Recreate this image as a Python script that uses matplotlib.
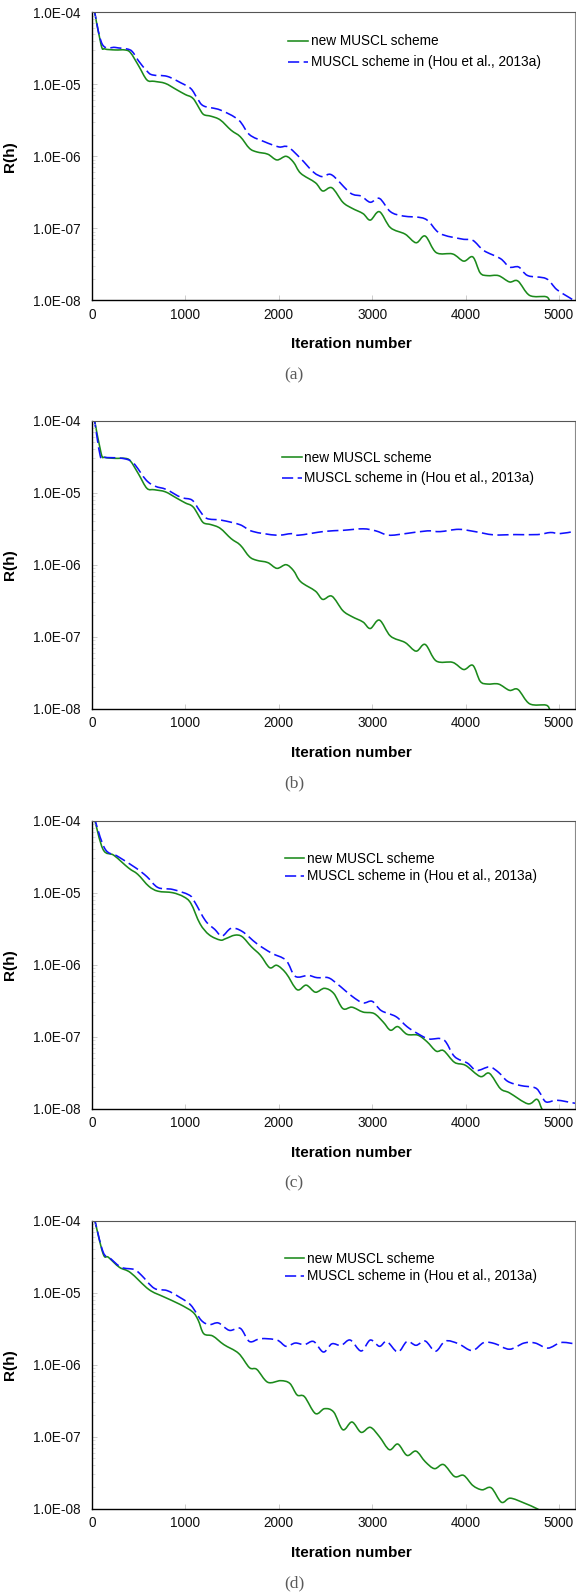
import matplotlib
matplotlib.use("Agg")
import numpy as np
import matplotlib.pyplot as plt
from matplotlib.path import Path
from matplotlib.patches import PathPatch
from matplotlib.lines import Line2D
from matplotlib.ticker import FixedLocator, FuncFormatter, LogLocator, NullFormatter

plt.rcParams['font.family'] = ['Liberation Sans', 'DejaVu Sans']

# ---- residual histories -------------------------------------------------
# (a) and (b): the new scheme's history is the same run in both panels
it_ab_new = [20, 98, 137, 250, 353, 412, 500, 588, 667, 784, 900, 1000, 1059, 1098,
             1150, 1196, 1275, 1373, 1490, 1588, 1686, 1765, 1882, 1980, 2078,
             2157, 2235, 2392, 2470, 2569, 2686, 2784, 2902, 2980, 3078, 3196,
             3353, 3470, 3568, 3686, 3862, 3980, 4078, 4157, 4235, 4353, 4470,
             4561, 4686, 4863, 4910, 5000]
res_ab_new = [1.15e-4, 3.5e-5, 3.1e-5, 3.0e-5, 3.0e-5, 2.75e-5, 1.8e-5, 1.15e-5,
              1.1e-5, 1.03e-5, 8.5e-6, 7.2e-6, 6.7e-6, 6.0e-6, 4.6e-6, 3.8e-6,
              3.6e-6, 3.2e-6, 2.3e-6, 1.87e-6, 1.29e-6, 1.15e-6, 1.07e-6, 8.9e-7,
              1.0e-6, 8.3e-7, 5.8e-7, 4.3e-7, 3.3e-7, 3.65e-7, 2.3e-7, 1.9e-7,
              1.6e-7, 1.3e-7, 1.7e-7, 1.02e-7, 8.3e-8, 6.3e-8, 7.8e-8, 4.6e-8,
              4.4e-8, 3.5e-8, 4.0e-8, 2.4e-8, 2.2e-8, 2.2e-8, 1.8e-8, 1.85e-8,
              1.17e-8, 1.12e-8, 9.5e-9, 8.0e-9]

it_a_old = [20, 110, 250, 373, 431, 500, 588, 647, 804, 950, 1059, 1130, 1196, 1373,
            1569, 1686, 1843, 2000, 2098, 2235, 2373, 2470, 2569, 2765, 2882,
            2980, 3078, 3196, 3333, 3568, 3725, 3961, 4078, 4196, 4373, 4470,
            4569, 4667, 4863, 4980, 5157, 5250]
res_a_old = [1.15e-4, 3.6e-5, 3.25e-5, 3.1e-5, 2.85e-5, 2.1e-5, 1.53e-5, 1.35e-5,
             1.29e-5, 1.05e-5, 8.7e-6, 6.3e-6, 5.0e-6, 4.4e-6, 3.2e-6, 2.0e-6,
             1.6e-6, 1.35e-6, 1.35e-6, 9.3e-7, 6.0e-7, 5.2e-7, 5.5e-7, 3.1e-7,
             2.8e-7, 2.3e-7, 2.6e-7, 1.7e-7, 1.48e-7, 1.35e-7, 8.5e-8, 7.1e-8,
             6.8e-8, 4.9e-8, 3.8e-8, 2.9e-8, 2.9e-8, 2.2e-8, 2.0e-8, 1.4e-8,
             1.0e-8, 8.0e-9]

it_b_old = [20, 87, 126, 323, 441, 579, 677, 795, 953, 1071, 1150, 1228, 1386,
            1583, 1720, 1976, 2134, 2213, 2488, 2685, 2902, 3039, 3177, 3354,
            3590, 3728, 3925, 4102, 4299, 4535, 4772, 4909, 5008, 5165]
res_b_old = [1.15e-4, 3.3e-5, 3.1e-5, 3.0e-5, 2.6e-5, 1.5e-5, 1.23e-5, 1.11e-5,
             8.6e-6, 7.9e-6, 5.7e-6, 4.4e-6, 4.15e-6, 3.6e-6, 2.9e-6, 2.57e-6,
             2.7e-6, 2.57e-6, 2.9e-6, 3.0e-6, 3.15e-6, 2.95e-6, 2.57e-6, 2.7e-6,
             2.95e-6, 2.88e-6, 3.1e-6, 2.88e-6, 2.6e-6, 2.62e-6, 2.62e-6, 2.8e-6,
             2.7e-6, 2.9e-6]

it_c_new = [20, 118, 235, 392, 490, 608, 706, 863, 980, 1059, 1157, 1255, 1373,
            1431, 1529, 1608, 1706, 1804, 1902, 1980, 2078, 2196, 2294, 2392,
            2490, 2588, 2686, 2784, 2902, 3020, 3118, 3196, 3275, 3373, 3490,
            3588, 3686, 3765, 3882, 4000, 4157, 4255, 4373, 4470, 4667, 4765,
            4816, 4860]
res_c_new = [1.15e-4, 4.0e-5, 3.3e-5, 2.2e-5, 1.8e-5, 1.23e-5, 1.05e-5, 1.0e-5,
             8.8e-6, 7.1e-6, 3.7e-6, 2.6e-6, 2.2e-6, 2.3e-6, 2.57e-6, 2.45e-6,
             1.78e-6, 1.35e-6, 9.1e-7, 9.8e-7, 7.6e-7, 4.5e-7, 5.2e-7, 4.15e-7,
             4.7e-7, 4.0e-7, 2.46e-7, 2.57e-7, 2.2e-7, 2.1e-7, 1.6e-7, 1.23e-7,
             1.38e-7, 1.08e-7, 1.05e-7, 8.5e-8, 6.3e-8, 6.4e-8, 4.4e-8, 4.0e-8,
             2.8e-8, 3.1e-8, 1.9e-8, 1.66e-8, 1.17e-8, 1.35e-8, 1.0e-8, 8.0e-9]

it_c_old = [20, 137, 275, 471, 588, 706, 863, 1039, 1098, 1216, 1314, 1392, 1490,
            1608, 1765, 1922, 2078, 2176, 2314, 2412, 2529, 2627, 2784, 2902,
            3000, 3098, 3255, 3373, 3490, 3608, 3765, 3882, 4020, 4118, 4255,
            4353, 4451, 4588, 4745, 4804, 4863, 4980, 5157, 5250]
res_c_old = [1.15e-4, 4.1e-5, 3.2e-5, 2.2e-5, 1.67e-5, 1.18e-5, 1.11e-5, 9.3e-6,
             7.5e-6, 4.06e-6, 3.1e-6, 2.5e-6, 3.2e-6, 2.9e-6, 1.96e-6, 1.45e-6,
             1.15e-6, 6.9e-7, 7.1e-7, 6.6e-7, 6.6e-7, 5.4e-7, 3.65e-7, 2.95e-7,
             3.1e-7, 2.3e-7, 1.9e-7, 1.38e-7, 1.1e-7, 9.3e-8, 9.1e-8, 5.3e-8,
             4.3e-8, 3.4e-8, 3.8e-8, 3.2e-8, 2.4e-8, 2.1e-8, 1.95e-8, 1.6e-8,
             1.24e-8, 1.31e-8, 1.2e-8, 1.15e-8]

it_d_new = [20, 118, 176, 294, 412, 608, 765, 941, 1078, 1137, 1196, 1294, 1412,
            1569, 1686, 1765, 1882, 2020, 2118, 2196, 2275, 2392, 2490, 2588,
            2686, 2784, 2882, 2980, 3078, 3184, 3275, 3373, 3470, 3568, 3667,
            3765, 3882, 3980, 4078, 4176, 4275, 4384, 4478, 4627, 4765, 4860]
res_d_new = [1.15e-4, 3.5e-5, 3.1e-5, 2.25e-5, 1.9e-5, 1.11e-5, 8.8e-6, 6.9e-6,
             5.4e-6, 4.15e-6, 2.7e-6, 2.5e-6, 1.9e-6, 1.44e-6, 9.1e-7, 8.6e-7,
             5.7e-7, 6.0e-7, 5.5e-7, 3.8e-7, 3.6e-7, 2.1e-7, 2.45e-7, 2.2e-7,
             1.25e-7, 1.6e-7, 1.15e-7, 1.35e-7, 1.0e-7, 6.6e-8, 7.9e-8, 5.5e-8,
             6.3e-8, 4.5e-8, 3.6e-8, 4.1e-8, 2.8e-8, 2.9e-8, 2.1e-8, 1.83e-8,
             1.95e-8, 1.23e-8, 1.4e-8, 1.2e-8, 1.0e-8, 8.5e-9]

it_d_old = [20, 118, 196, 314, 451, 529, 667, 804, 941, 1059, 1169, 1255, 1353,
            1471, 1588, 1686, 1804, 1980, 2078, 2176, 2275, 2373, 2478, 2569,
            2667, 2765, 2882, 2980, 3078, 3157, 3275, 3373, 3470, 3568, 3678,
            3784, 3922, 4071, 4196, 4314, 4471, 4627, 4745, 4882, 5020, 5157]
res_d_old = [1.15e-4, 3.7e-5, 3.0e-5, 2.25e-5, 2.1e-5, 1.75e-5, 1.15e-5, 1.07e-5,
             8.6e-6, 6.7e-6, 4.15e-6, 3.6e-6, 3.8e-6, 3.0e-6, 3.2e-6, 2.1e-6,
             2.3e-6, 2.2e-6, 1.8e-6, 2.0e-6, 1.9e-6, 2.1e-6, 1.5e-6, 1.95e-6,
             1.85e-6, 2.2e-6, 1.55e-6, 2.2e-6, 1.8e-6, 2.1e-6, 1.5e-6, 2.1e-6,
             1.86e-6, 2.13e-6, 1.54e-6, 2.13e-6, 1.96e-6, 1.57e-6, 2.03e-6,
             1.96e-6, 1.64e-6, 2.0e-6, 2.0e-6, 1.7e-6, 2.03e-6, 1.96e-6]

series_labels = ["new MUSCL scheme", "MUSCL scheme in (Hou et al., 2013a)"]
panel_tags = ["(a)", "(b)", "(c)", "(d)"]
x_ticks = [0, 1000, 2000, 3000, 4000, 5000]
y_ticks = [1e-8, 1e-7, 1e-6, 1e-5, 1e-4]

panels = [
    (it_ab_new, res_ab_new, it_a_old, res_a_old),
    (it_ab_new, res_ab_new, it_b_old, res_b_old),
    (it_c_new, res_c_new, it_c_old, res_c_old),
    (it_d_new, res_d_new, it_d_old, res_d_old),
]

# ---- layout (pixels on a 576 x 1596 canvas) -------------------------------
W, H = 576, 1596
fig = plt.figure(figsize=(W / 100, H / 100), dpi=100)
ax_left, ax_right = 92, 575
ax_h = 288
ax_tops = [12.3, 420.7, 820.7, 1220.7]
legend_anchor = [(0.4068, 1 - 22.0 / ax_h, 0.52),
                 (0.394, 1 - 30.5 / ax_h, 0.45),
                 (0.399, 1 - 31.0 / ax_h, 0.27),
                 (0.399, 1 - 31.0 / ax_h, 0.27)]

FS = 9.8
LW = 1.15
green = '#1b8a1b'
blue = '#1010ff'
blue_dash = (7.0, 2.8)


def sci_label(v, pos):
    s = "%.1E" % v
    mant, exp = s.split("E")
    return "%sE%s%02d" % (mant, exp[0], abs(int(exp)))


def smooth_path(x, y):
    """Smoothed-line path (Catmull-Rom Bezier segments) through the
    data points, built in (x, log10 y) so it follows the log axis."""
    px = np.asarray(x, float)
    py = np.log10(np.asarray(y, float))
    P = np.column_stack([px, py])
    Pe = np.vstack([P[0], P, P[-1]])
    verts = [P[0]]
    codes = [Path.MOVETO]
    for i in range(len(P) - 1):
        p0, p1, p2, p3 = Pe[i], Pe[i + 1], Pe[i + 2], Pe[i + 3]
        c1 = p1 + (p2 - p0) / 6.0
        c2 = p2 - (p3 - p1) / 6.0
        verts += [c1, c2, p2]
        codes += [Path.CURVE4] * 3
    V = np.array(verts)
    V[:, 1] = 10.0 ** V[:, 1]
    return Path(V, codes)


for k, (xn, yn, xo, yo) in enumerate(panels):
    top = ax_tops[k]
    ax = fig.add_axes([ax_left / W, 1 - (top + ax_h) / H,
                       (ax_right - ax_left) / W, ax_h / H])
    ax.set_yscale('log')
    ax.set_xlim(0, 5172)
    ax.set_ylim(1e-8, 1e-4)

    ax.add_patch(PathPatch(smooth_path(xn, yn), fill=False, edgecolor=green,
                           lw=LW, capstyle='butt', joinstyle='round'))
    ax.add_patch(PathPatch(smooth_path(xo, yo), fill=False, edgecolor=blue,
                           lw=LW, linestyle=(0, blue_dash), capstyle='butt'))
    ax.set_xlim(0, 5172)
    ax.set_ylim(1e-8, 1e-4)

    ax.xaxis.set_major_locator(FixedLocator(x_ticks))
    ax.yaxis.set_major_locator(FixedLocator(y_ticks))
    ax.yaxis.set_minor_locator(LogLocator(base=10, subs=range(2, 10)))
    ax.yaxis.set_minor_formatter(NullFormatter())
    ax.yaxis.set_major_formatter(FuncFormatter(sci_label))

    ax.tick_params(axis='both', which='major', direction='in', length=3.5,
                   width=0.6, color='#c4c4c4', labelsize=FS, labelcolor='#111111')
    ax.tick_params(axis='x', which='major', pad=5.5)
    ax.tick_params(axis='y', which='major', pad=8.5)
    ax.tick_params(axis='y', which='minor', direction='in', length=2.5,
                   width=0.5, color='#cfcfcf')

    for side in ('left', 'bottom'):
        ax.spines[side].set_color('black')
        ax.spines[side].set_linewidth(1.0)
    ax.spines['top'].set_color('#555555')
    ax.spines['top'].set_linewidth(0.8)
    ax.spines['right'].set_color('#8a8a8a')
    ax.spines['right'].set_linewidth(0.8)

    ax.set_ylabel("R(h)", fontsize=11, fontweight='bold')
    ax.yaxis.set_label_coords((17 - ax_left) / (ax_right - ax_left), 0.5)
    ax.set_xlabel("Iteration number", fontsize=11, fontweight='bold')
    ax.xaxis.set_label_coords(0.538, -0.128)

    handles = [Line2D([], [], color=green, lw=LW),
               Line2D([], [], color=blue, lw=LW, dashes=blue_dash)]
    lx, ly, lsp = legend_anchor[k]
    ax.legend(handles, series_labels, loc='upper left', bbox_to_anchor=(lx, ly),
              frameon=False, fontsize=FS, borderpad=0, borderaxespad=0,
              handlelength=1.43, handletextpad=0.19, labelspacing=lsp)

    ax.text(0.418, -75 / ax_h, panel_tags[k], transform=ax.transAxes,
            ha='center', va='center', fontsize=12.5, color='#5a5a5a',
            family=['Liberation Serif', 'DejaVu Serif'])

fig.savefig("out.png", dpi=100)
